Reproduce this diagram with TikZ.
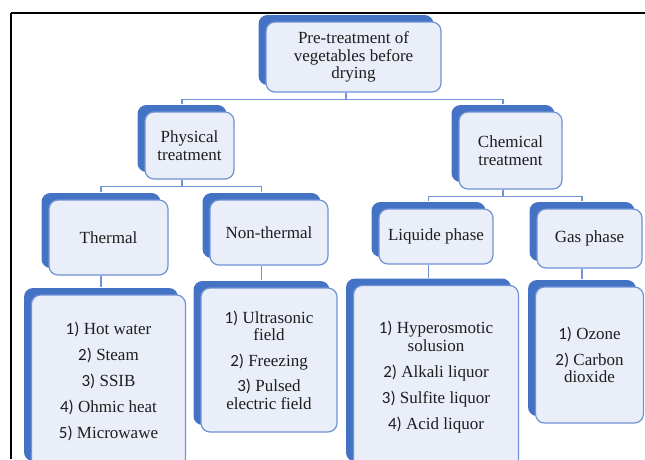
\documentclass[tikz,border=0pt]{standalone}
\usepackage{fontspec}
\setmainfont{Liberation Serif}
\newfontfamily\numfont{Carlito}
\usetikzlibrary{shadows}
\definecolor{boxback}{HTML}{4472C4}
\definecolor{boxedge}{HTML}{6F93D5}
\definecolor{boxfill}{HTML}{E9EEF8}
\definecolor{txtgray}{HTML}{1E1E1E}
\newcommand{\nb}[1]{{\numfont #1)}~}

\begin{document}
\begin{tikzpicture}[x=1pt,y=-1pt,font=\fontsize{17}{17.5}\selectfont,
        box/.style={rectangle,rounded corners=9pt,draw=boxedge,line width=1.2pt,
            fill=boxfill,text=txtgray,align=center,inner sep=2pt,
            general shadow={fill=boxback,shadow xshift=-7.5pt,shadow yshift=7pt}},
        conn/.style={draw=boxedge,line width=1.2pt}]
            \clip (0,0) rectangle (645,459);
            \fill[white] (0,0) rectangle (645,459);
            \draw[line width=1.6pt] (11,13) -- (645,13);
            \draw[line width=1.6pt] (11,13) -- (11,459);
            % top level
            \node[box,minimum width=175pt,minimum height=70pt] (root) at (353.5,57) {Pre-treatment of\\vegetables before\\drying};
            \node[box,minimum width=89pt,minimum height=67pt] (phys) at (189.5,145.5) {Physical\\treatment};
            \node[box,minimum width=103pt,minimum height=77pt] (chem) at (510.5,150.5) {Chemical\\treatment};
            % second level
            \node[box,minimum width=119pt,minimum height=75pt] (therm) at (108.5,237.5) {Thermal};
            \node[box,minimum width=118pt,minimum height=65pt] (nontherm) at (269,232.5) {Non-thermal};
            \node[box,minimum width=114pt,minimum height=55pt] (liquid) at (436,236.5) {Liquide phase};
            \node[box,minimum width=105pt,minimum height=59pt] (gas) at (589.5,238.5) {Gas phase};
            % lists
            \node[box,minimum width=154pt,minimum height=173pt] (thermlist) at (108.5,381.5)
                {\nb1Hot water\\[8.5pt]\nb2Steam\\[8.5pt]\nb3SSIB\\[8.5pt]\nb4Ohmic heat\\[8.5pt]\nb5Microwawe};
            \node[box,minimum width=136pt,minimum height=144pt] (nonthermlist) at (269,360)
                {\nb1Ultrasonic\\field\\[8pt]\nb2Freezing\\[8pt]\nb3Pulsed\\electric field};
            \node[box,minimum width=165pt,minimum height=183pt] (liquidlist) at (436,377)
                {\nb1Hyperosmotic\\solusion\\[8.5pt]\nb2Alkali liquor\\[8.5pt]\nb3Sulfite liquor\\[8.5pt]\nb4Acid liquor};
            \node[box,minimum width=108pt,minimum height=136pt] (gaslist) at (589.5,355)
                {\nb1Ozone\\[8pt]\nb2Carbon\\dioxide};
            % connectors
            \draw[conn] ([xshift=-7.5pt]root.south) -- ++(0,7) -| ([xshift=-7.5pt,yshift=7pt]phys.north);
            \draw[conn] ([xshift=-7.5pt]root.south) -- ++(0,7) -| ([xshift=-7.5pt,yshift=7pt]chem.north);
            \draw[conn] ([xshift=-7.5pt]phys.south) -- ++(0,7) -| ([xshift=-7.5pt,yshift=7pt]therm.north);
            \draw[conn] ([xshift=-7.5pt]phys.south) -- ++(0,7) -| ([xshift=-7.5pt,yshift=7pt]nontherm.north);
            \draw[conn] ([xshift=-7.5pt]chem.south) -- ++(0,6.5) -| ([xshift=-7.5pt,yshift=7pt]liquid.north);
            \draw[conn] ([xshift=-7.5pt]chem.south) -- ++(0,6.5) -| ([xshift=-7.5pt,yshift=7pt]gas.north);
            \draw[conn] ([xshift=-7.5pt]therm.south) -- ([xshift=-7.5pt,yshift=7pt]thermlist.north);
            \draw[conn] ([xshift=-7.5pt]nontherm.south) -- ([xshift=-7.5pt,yshift=7pt]nonthermlist.north);
            \draw[conn] ([xshift=-7.5pt]liquid.south) -- ([xshift=-7.5pt,yshift=7pt]liquidlist.north);
            \draw[conn] ([xshift=-7.5pt]gas.south) -- ([xshift=-7.5pt,yshift=7pt]gaslist.north);
        \end{tikzpicture}
\end{document}
